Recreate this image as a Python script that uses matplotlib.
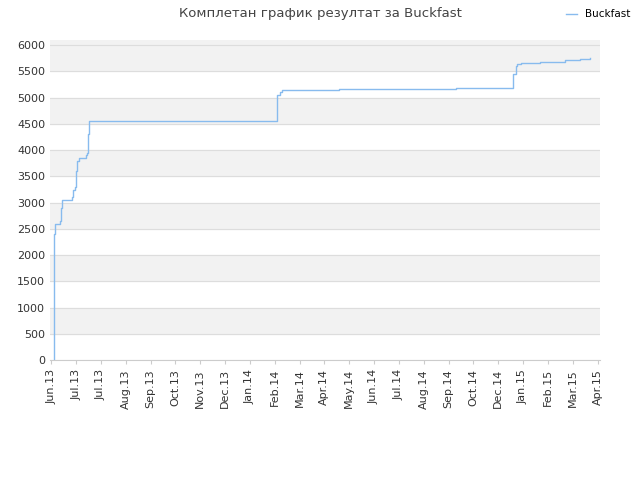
import matplotlib
matplotlib.use('Agg')
import matplotlib.pyplot as plt

tick_labels = ['Jun.13', 'Jul.13', 'Jul.13', 'Aug.13', 'Sep.13', 'Oct.13', 'Nov.13', 'Dec.13',
               'Jan.14', 'Feb.14', 'Mar.14', 'Apr.14', 'May.14', 'Jun.14', 'Jul.14', 'Aug.14',
               'Sep.14', 'Oct.14', 'Dec.14', 'Jan.15', 'Feb.15', 'Mar.15', 'Apr.15']
# x in tick units, y = score
xs = [0.10, 0.11, 0.12, 0.16, 0.36, 0.40, 0.42, 0.44, 0.84, 0.88, 0.95, 1.00, 1.04, 1.12,
      1.40, 1.45, 1.48, 1.50, 1.52, 1.53, 5.26, 9.06, 9.08, 9.20, 9.28, 11.60, 16.30,
      18.58, 18.60, 18.70, 18.75, 18.90, 19.70, 20.70, 21.30, 21.70]
ys = [0, 1500, 2400, 2600, 2650, 2900, 3000, 3050, 3100, 3250, 3300, 3600, 3800, 3850,
      3900, 3950, 4000, 4300, 4500, 4550, 4560, 4560, 5050, 5100, 5150, 5160, 5180,
      5180, 5450, 5600, 5650, 5670, 5690, 5710, 5730, 5760]

fig = plt.figure(figsize=(6.4, 4.8), dpi=100)
ax = fig.add_axes([50/640, 120/480, 550/640, 320/480])
for i in range(0, 12):
    if i % 2 == 1:
        ax.axhspan(i * 500, (i + 1) * 500, color='#f2f2f2', zorder=0)
ax.axhspan(6000, 6100, color='#f2f2f2', zorder=0)
ax.plot(xs, ys, color='#88bbee', lw=1, drawstyle='steps-post', label='Buckfast')
ax.set_xlim(-0.05, 22.1)
ax.set_ylim(0, 6100)
ax.set_yticks(range(0, 6001, 500))
ax.set_xticks(range(len(tick_labels)))
ax.set_xticklabels(tick_labels, rotation=90, fontsize=8, color='#333333')
ax.tick_params(axis='y', labelsize=8, colors='#333333', length=0)
ax.tick_params(axis='x', length=3, color='#cccccc')
ax.yaxis.grid(True, color='#dddddd', lw=0.8)
ax.set_axisbelow(True)
for s in ['top', 'right', 'left']:
    ax.spines[s].set_visible(False)
ax.spines['bottom'].set_color('#cccccc')
fig.text(0.5, 0.985, 'Комплетан график резултат за Buckfast', ha='center', va='top',
         fontsize=9.5, color='#444444')
fig.legend(loc='upper right', bbox_to_anchor=(1.0, 1.0), frameon=False, fontsize=7.5,
           handlelength=1.0)
plt.savefig('out.png')
